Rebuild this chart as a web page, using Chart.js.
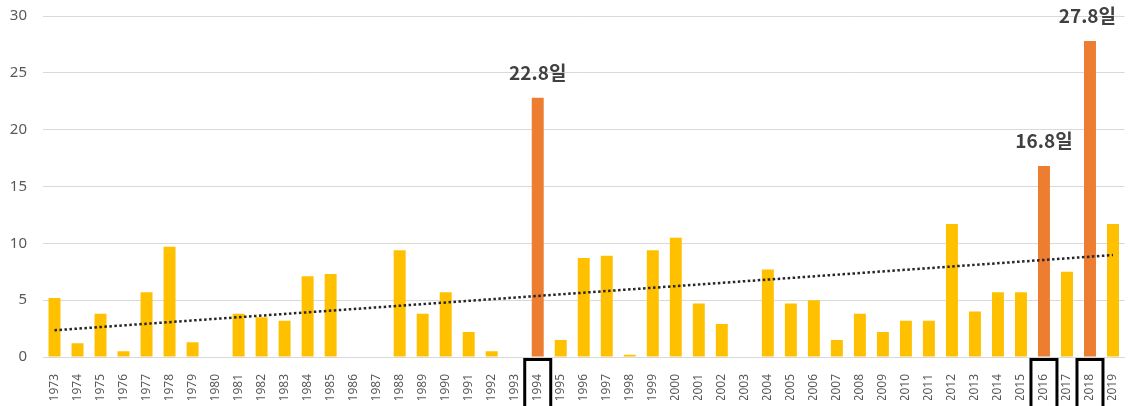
<!DOCTYPE html>
<html>
<head>
<meta charset="utf-8">
<script src="https://cdn.jsdelivr.net/npm/chart.js@4"></script>
<style>
  html, body { margin: 0; padding: 0; background: #fff; }
  #wrap { width: 1131px; height: 406px; }
</style>
</head>
<body>
<div id="wrap"><canvas id="chart" width="1131" height="406"></canvas></div>
<script>
let years = ['1973','1974','1975','1976','1977','1978','1979','1980','1981','1982','1983','1984','1985','1986','1987','1988','1989','1990','1991','1992','1993','1994','1995','1996','1997','1998','1999','2000','2001','2002','2003','2004','2005','2006','2007','2008','2009','2010','2011','2012','2013','2014','2015','2016','2017','2018','2019'];

let days = [5.2, 1.2, 3.8, 0.5, 5.7, 9.7, 1.3, 0, 3.8, 3.5, 3.2, 7.1, 7.3, 0, 0, 9.4, 3.8, 5.7, 2.2, 0.5, 0, 22.8, 1.5, 8.7, 8.9, 0.2, 9.4, 10.5, 4.7, 2.9, 0, 7.7, 4.7, 5.0, 1.5, 3.8, 2.2, 3.2, 3.2, 11.7, 4.0, 5.7, 5.7, 16.8, 7.5, 27.8, 11.7];

// years drawn in orange, boxed and labelled
let highlightYears = ['1994', '2016', '2018'];

// trend line at its two ends
let trendStart = 2.35;
let trendEnd = 8.97;

let yTicks = [0, 5, 10, 15, 20, 25, 30];

let barColors = years.map(y => highlightYears.includes(y) ? '#ED7D31' : '#FFC000');
let trendData = years.map((y, i) => i == 0 ? trendStart : (i == years.length - 1 ? trendEnd : null));

let markPlugin = {
    id: 'marks',
    afterDraw: (chart) => {
        let ctx = chart.ctx;
        let x = chart.scales.x;
        let y = chart.scales.y;
        ctx.save();
        highlightYears.forEach(yr => {
            let i = years.indexOf(yr);
            let px = x.getPixelForValue(i);
            let py = y.getPixelForValue(days[i]);

            // value label above the bar
            ctx.font = 'bold 19px "Noto Sans CJK KR"';
            ctx.fillStyle = '#404040';
            ctx.textAlign = 'center';
            ctx.textBaseline = 'alphabetic';
            let tx = px;
            let label = days[i].toFixed(1) + '일';
            let w = ctx.measureText(label).width;
            if (tx + w / 2 > chart.width - 15) tx = chart.width - 15 - w / 2;
            ctx.fillText(label, tx, py - 18);

            // black box around the year label
            ctx.strokeStyle = '#000';
            ctx.lineWidth = 3;
            ctx.strokeRect(px - 13, y.getPixelForValue(0) + 2.5, 26, 60);
        });
        ctx.restore();
    }
};

let cfg = {
    type: 'bar',
    data: {
        labels: years,
        datasets: [{
            type: 'line',
            label: 'trend',
            data: trendData,
            spanGaps: true,
            borderColor: '#262626',
            borderWidth: 2.5,
            borderDash: [2.5, 2.5],
            pointStyle: false,
            fill: false,
            order: 0
        },
        {
            label: 'days',
            data: days,
            backgroundColor: barColors,
            barPercentage: 0.52,
            categoryPercentage: 1,
            order: 1
        }]
    },
    options: {
        responsive: false,
        animation: false,
        layout: {
            padding: { top: 16, right: -1.5, left: 0, bottom: 6 }
        },
        plugins: {
            legend: { display: false },
            tooltip: { enabled: false }
        },
        scales: {
            x: {
                afterFit: (axis) => { axis.paddingLeft = 0; axis.paddingRight = 0; axis.height = 43; },
                grid: { display: false },
                border: { color: '#D9D9D9', width: 1 },
                ticks: {
                    minRotation: 90,
                    maxRotation: 90,
                    autoSkip: false,
                    color: '#595959',
                    padding: 9,
                    font: { family: 'Noto Sans', size: 12 }
                }
            },
            y: {
                min: 0,
                max: 30,
                afterBuildTicks: (axis) => { axis.ticks = yTicks.map(v => ({ value: v })); },
                afterFit: (axis) => { axis.width = 43; axis.paddingTop = 0; axis.paddingBottom = 0; },
                grid: { color: '#D9D9D9', drawTicks: false },
                border: { display: false },
                ticks: {
                    color: '#595959',
                    padding: 16,
                    font: { family: 'Noto Sans', size: 15 }
                }
            }
        }
    },
    plugins: [markPlugin]
};

let chart = new Chart(document.getElementById('chart'), cfg);
</script>
</body>
</html>
